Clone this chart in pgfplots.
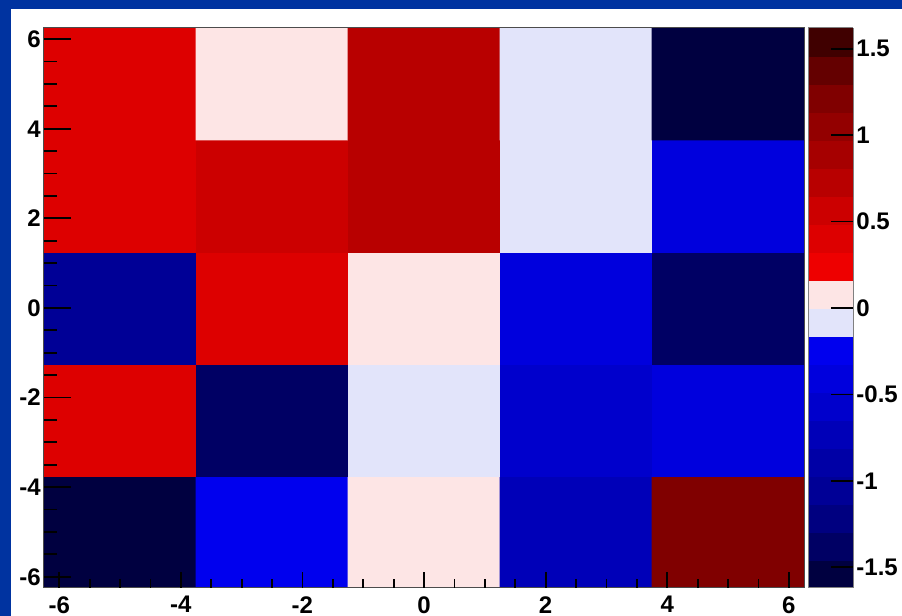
\documentclass[border=0pt]{standalone}
\usepackage{fontspec}
\setmainfont{Liberation Sans}
\usepackage{pgfplots}
\usepackage{pgfplotstable}
\pgfplotsset{compat=1.18}
\definecolor{frameblue}{RGB}{0,51,160}
\newcommand\tickfont{\fontsize{12}{14}\selectfont\bfseries}
\pgfplotstableread{
x y z
-5 -5 -1.55
-2.5 -5 -0.25
0 -5 0.08
2.5 -5 -0.7
5 -5 1.2
-5 -2.5 0.4
-2.5 -2.5 -1.35
0 -2.5 -0.08
2.5 -2.5 -0.55
5 -2.5 -0.4
-5 0 -1.05
-2.5 0 0.4
0 0 0.08
2.5 0 -0.4
5 0 -1.35
-5 2.5 0.4
-2.5 2.5 0.55
0 2.5 0.7
2.5 2.5 -0.08
5 2.5 -0.4
-5 5 0.4
-2.5 5 0.08
0 5 0.7
2.5 5 -0.08
5 5 -1.55
}\cells
\begin{document}
\begin{tikzpicture}
\path[use as bounding box] (0,0) rectangle (451pt,308pt);
\fill[frameblue] (0,0) rectangle (451pt,308pt);
\fill[white] (5.5pt,0) rectangle (451pt,303.5pt);
\begin{axis}[
  at={(22pt,14pt)}, anchor=south west,
  scale only axis, width=380pt, height=280pt,
  xmin=-6.25, xmax=6.25, ymin=-6.25, ymax=6.25,
  axis on top,
  xtick=\empty,
  ytick={-6,-4,...,6}, minor y tick num=3, ytick pos=left, tick align=inside,
  major tick length=13.5pt, minor tick length=6.5pt,
  tick style={black, line width=0.9pt},
  yticklabel style={font=\tickfont, inner sep=1.5pt},
  /pgf/number format/assume math mode=true,
  axis line style={draw=black!70, line width=0.5pt},
  colormap access=piecewise constant,
  colormap={rb}{rgb255=(0,0,64) rgb255=(0,0,100) rgb255=(0,0,128) rgb255=(0,0,150)
    rgb255=(0,0,166) rgb255=(0,0,184) rgb255=(0,0,204) rgb255=(0,0,221) rgb255=(0,0,238)
    rgb255=(226,228,250) rgb255=(253,229,229)
    rgb255=(238,0,0) rgb255=(221,0,0) rgb255=(204,0,0) rgb255=(184,0,0) rgb255=(166,0,0)
    rgb255=(147,0,0) rgb255=(128,0,0) rgb255=(100,0,0) rgb255=(64,0,0)},
  point meta min=-1.62, point meta max=1.62,
  colorbar,
  colorbar style={
    at={(parent axis.north east)}, anchor=north west, xshift=-6.5pt,
    width=22.5pt,
    ytick={-1.5,-1,...,1.5},
    ytick pos=right, yticklabel pos=right,
    tick align=inside,
    major tick length=11pt,
    minor tick num=0,
    tick style={black, line width=0.9pt},
    yticklabel style={font=\tickfont, inner sep=1.5pt, /pgf/number format/assume math mode=true},
    axis line style={draw=black!50, line width=0.5pt},
  },
]
\addplot[matrix plot*, mesh/cols=5, point meta=explicit] table[x=x, y=y, meta=z] {\cells};
\end{axis}
\begin{axis}[
  at={(22pt,14pt)}, anchor=south west,
  scale only axis, width=380pt, height=280pt,
  xmin=-6.25, xmax=6.25, ymin=-6.25, ymax=6.25,
  axis on top,
  axis line style={draw=none},
  ytick=\empty,
  xtick={-6,-4,...,6}, minor x tick num=3, xtick pos=left, tick align=inside,
  major tick length=8pt, minor tick length=4.5pt,
  tick style={black, line width=0.9pt},
  xticklabel style={font=\tickfont, inner sep=4pt},
  /pgf/number format/assume math mode=true,
]
\addplot[draw=none] coordinates {(0,0)};
\end{axis}
\end{tikzpicture}
\end{document}
